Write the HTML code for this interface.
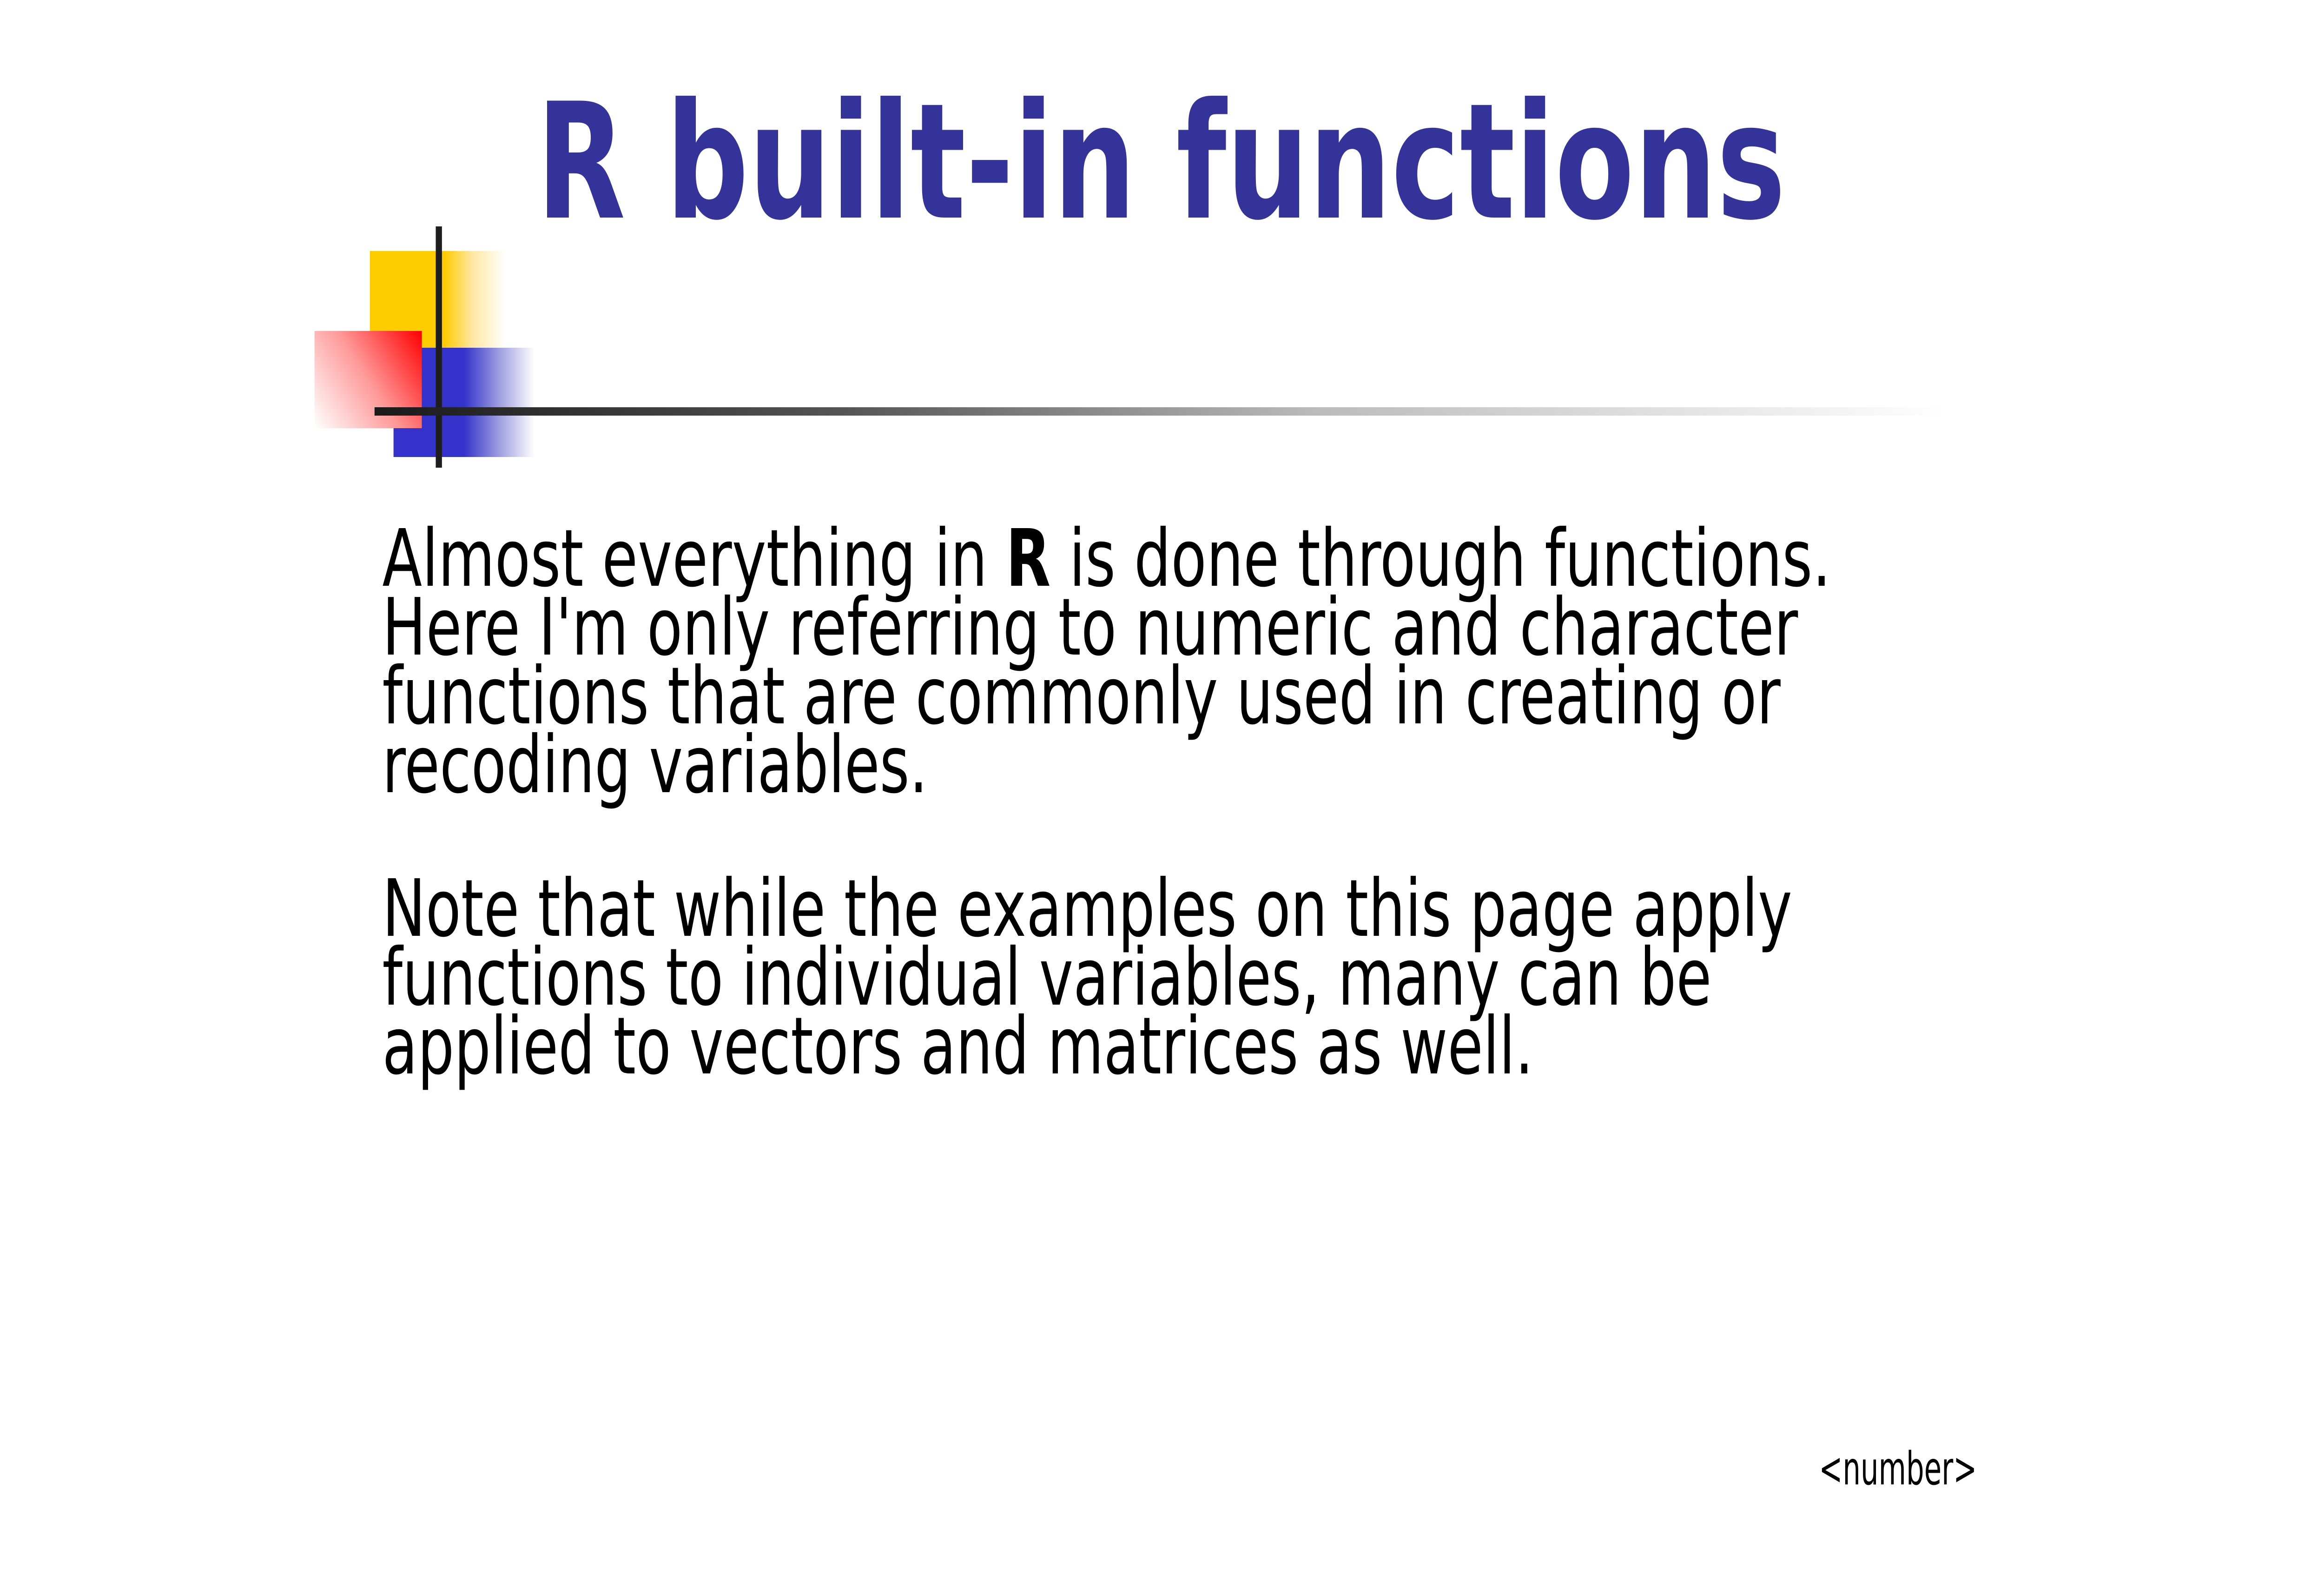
<!DOCTYPE html>
<html><head><meta charset="utf-8"><style>
html,body{margin:0;padding:0;background:#fff;overflow:hidden;width:100%;height:100%;}
svg{display:block;width:100vw;height:100vh;}
</style></head><body>
<svg viewBox="0 0 6000 3375" preserveAspectRatio="none" xmlns="http://www.w3.org/2000/svg">
<defs>
<linearGradient id="gy" x1="955" y1="0" x2="1305" y2="0" gradientUnits="userSpaceOnUse">
<stop offset="0" stop-color="#ffcc00"/><stop offset="0.55" stop-color="#ffcc00"/><stop offset="0.75" stop-color="#ffe6a0"/><stop offset="1" stop-color="#ffffff"/></linearGradient>
<linearGradient id="gb" x1="1016" y1="0" x2="1380" y2="0" gradientUnits="userSpaceOnUse">
<stop offset="0" stop-color="#3333cc"/><stop offset="0.5" stop-color="#3333cc"/><stop offset="0.75" stop-color="#9e9ee0"/><stop offset="1" stop-color="#ffffff"/></linearGradient>
<linearGradient id="gr" x1="1089" y1="712" x2="812" y2="921" gradientUnits="userSpaceOnUse">
<stop offset="0" stop-color="#ff0000"/><stop offset="0.5" stop-color="#ff9999"/><stop offset="1" stop-color="#ffffff"/></linearGradient>
<linearGradient id="gl" x1="967" y1="0" x2="5020" y2="0" gradientUnits="userSpaceOnUse">
<stop offset="0" stop-color="#1a1a1a"/><stop offset="0.3" stop-color="#555555"/><stop offset="0.6" stop-color="#bbbbbb"/><stop offset="1" stop-color="#ffffff"/></linearGradient>
</defs>
<rect x="955" y="540" width="350" height="208" fill="url(#gy)"/>
<rect x="1016" y="748" width="364" height="235" fill="url(#gb)"/>
<rect x="812" y="712" width="277" height="209" fill="url(#gr)"/>
<rect x="1125" y="487" width="16" height="519" fill="#1e1e1e"/>
<rect x="967" y="876" width="4053" height="18" fill="url(#gl)"/>
<text x="1385" y="468" font-family="DejaVu Sans, Liberation Sans, sans-serif" font-weight="bold" font-size="345" fill="#333399" textLength="3225" lengthAdjust="spacingAndGlyphs">R built-in functions</text>
<g font-family="DejaVu Sans, Liberation Sans, sans-serif" font-size="170" fill="#000">
<text x="987" y="1260" textLength="3740" lengthAdjust="spacingAndGlyphs">Almost everything in <tspan font-weight="bold">R</tspan> is done through functions.</text>
<text x="987" y="1408" textLength="3655" lengthAdjust="spacingAndGlyphs">Here I'm only referring to numeric and character</text>
<text x="987" y="1556" textLength="3610" lengthAdjust="spacingAndGlyphs">functions that are commonly used in creating or</text>
<text x="987" y="1704" textLength="1408" lengthAdjust="spacingAndGlyphs">recoding variables.</text>
<text x="987" y="2013" textLength="3640" lengthAdjust="spacingAndGlyphs">Note that while the examples on this page apply</text>
<text x="987" y="2161" textLength="3432" lengthAdjust="spacingAndGlyphs">functions to individual variables, many can be</text>
<text x="987" y="2309" textLength="2972" lengthAdjust="spacingAndGlyphs">applied to vectors and matrices as well.</text>
</g>
<text x="4696" y="3193" font-family="DejaVu Sans, Liberation Sans, sans-serif" font-size="98" fill="#000" textLength="408" lengthAdjust="spacingAndGlyphs">&lt;number&gt;</text>
</svg>
</body></html>
